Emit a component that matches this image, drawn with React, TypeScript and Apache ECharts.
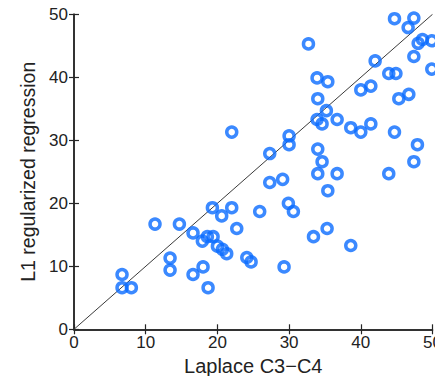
import React, { useEffect, useRef } from "react";
import * as echarts from "echarts";

const laplace: number[] = [
  32.7, 44.7, 47.4, 46.6, 48.0, 48.6, 49.9, 47.4, 49.9, 42.0,
  43.9, 44.9, 33.9, 35.4, 40.0, 41.4, 34.0, 45.3, 46.7, 35.2,
  33.9, 34.6, 36.7, 38.6, 40.0, 41.4, 44.7, 30.0, 30.0, 27.3,
  34.0, 34.6, 47.9, 47.4, 34.0, 36.7, 43.9, 27.3, 29.1, 35.4,
  22.0, 25.9, 29.9, 30.6, 33.4, 35.3, 38.6, 29.3, 24.1, 24.7,
  19.3, 22.0, 20.6, 11.3, 14.7, 22.7, 16.6, 17.9, 18.6, 19.4,
  20.0, 20.7, 21.3, 13.4, 13.4, 6.7, 6.7, 8.0, 16.6, 18.0,
  18.7,
];
const l1Reg: number[] = [
  45.3, 49.3, 49.4, 47.9, 45.4, 46.0, 45.8, 43.3, 41.3, 42.6,
  40.6, 40.6, 39.9, 39.3, 38.0, 38.6, 36.6, 36.6, 37.3, 34.7,
  33.3, 32.6, 33.3, 32.0, 31.3, 32.6, 31.3, 30.7, 29.3, 27.9,
  28.6, 26.6, 29.3, 26.6, 24.7, 24.7, 24.7, 23.3, 23.8, 22.0,
  31.3, 18.7, 20.0, 18.7, 14.7, 16.0, 13.3, 9.9, 11.4, 10.7,
  19.3, 19.3, 18.0, 16.7, 16.7, 16.0, 15.3, 14.0, 14.7, 14.7,
  13.2, 12.7, 12.0, 11.3, 9.4, 8.7, 6.6, 6.6, 8.7, 9.9,
  6.6,
];
const diagonal: number[][] = [
  [0, 0],
  [50, 50],
];
const axisMin = 0;
const axisMax = 50;
const tickStep = 10;

const FONT = "Liberation Sans, Arial, sans-serif";
const AXIS_COLOR = "#262626";

export default function App() {
  const ref = useRef<HTMLDivElement>(null);
  useEffect(() => {
    if (!ref.current) return;
    const chart = echarts.init(ref.current, undefined, { renderer: "svg" });
    const points = laplace.map((x, i) => [x, l1Reg[i]]);
    const baseAxis = {
      type: "value" as const,
      min: axisMin,
      max: axisMax,
      interval: tickStep,
      splitLine: { show: false },
      axisLine: { show: true, lineStyle: { color: AXIS_COLOR, width: 1.5 } },
      axisTick: { show: true, inside: true, length: 5, lineStyle: { color: AXIS_COLOR, width: 1.2 } },
    };
    chart.setOption({
      animation: false,
      backgroundColor: "#ffffff",
      grid: {
        left: 74,
        right: 2.5,
        top: 14.3,
        bottom: 46.7,
        containLabel: false,
        outerBoundsMode: "none",
      },
      xAxis: [
        {
          ...baseAxis,
          position: "bottom",
          name: "Laplace C3\u2212C4",
          nameLocation: "middle",
          nameGap: 25,
          nameTextStyle: { fontFamily: FONT, fontSize: 20, color: "#222" },
          axisLabel: { fontFamily: FONT, fontSize: 17, color: "#222", margin: 5 },
        },
        {
          ...baseAxis,
          position: "top",
          axisLabel: { show: false },
        },
      ],
      yAxis: [
        {
          ...baseAxis,
          position: "left",
          name: "L1 regularized regression",
          nameLocation: "middle",
          nameGap: 36,
          nameTextStyle: { fontFamily: FONT, fontSize: 19.5, color: "#222" },
          axisLabel: { fontFamily: FONT, fontSize: 17, color: "#222", margin: 6 },
        },
        {
          ...baseAxis,
          position: "right",
          axisLabel: { show: false },
        },
      ],
      series: [
        {
          type: "line",
          data: diagonal,
          xAxisIndex: 0,
          yAxisIndex: 0,
          showSymbol: false,
          symbol: "none",
          lineStyle: { color: "#3a3a3a", width: 1 },
          silent: true,
          z: 1,
        },
        {
          type: "scatter",
          data: points,
          xAxisIndex: 0,
          yAxisIndex: 0,
          symbol: "circle",
          symbolSize: 10,
          itemStyle: { color: "rgba(0,0,0,0)", borderColor: "#0a6cff", borderWidth: 3.5 },
          z: 3,
        },
      ],
    });
    return () => chart.dispose();
  }, []);
  return <div ref={ref} style={{ width: 435, height: 376, position: "absolute", left: 0, top: 0 }} />;
}
